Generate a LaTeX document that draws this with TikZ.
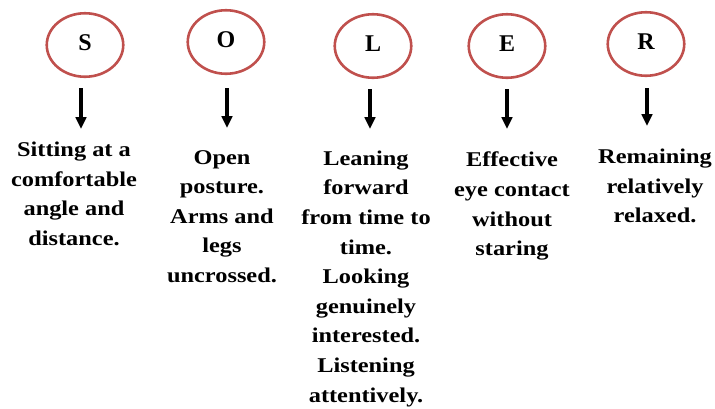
\documentclass[tikz,border=0pt]{standalone}
\usepackage{fontspec}
\setmainfont{Liberation Serif}
\usetikzlibrary{shapes.geometric,arrows.meta}
\definecolor{ringred}{RGB}{192,80,77}
\begin{document}
\begin{tikzpicture}[x=1pt,y=-1pt,
  ring/.style={ellipse,draw=ringred,line width=2.6pt,
    minimum width=76.5pt,minimum height=63.5pt,inner sep=0pt,
    font=\fontsize{24}{28}\selectfont\bfseries,text depth=4pt},
  arr/.style={-{Triangle[width=10.5pt,length=12pt]},line width=3.4pt},
  txt/.style={anchor=north,align=center,inner sep=0pt,
    font=\fontsize{21}{29.6}\selectfont\bfseries,xscale=1.16,transform shape}]
\useasboundingbox[fill=white] (0,0) rectangle (715,408);

% letter rings
\node[ring] (S) at (85,45) {S};
\node[ring] (O) at (226,42) {O};
\node[ring] (L) at (373,46) {L};
\node[ring] (E) at (507,46) {E};
\node[ring] (R) at (646,44) {R};

% descriptions
\node[txt] (tS) at (74,142) {Sitting at a\\comfortable\\angle and\\distance.};
\node[txt] (tO) at (222,150) {Open\\posture.\\Arms and\\legs\\uncrossed.};
\node[txt] (tL) at (366,150.5) {Leaning\\forward\\from time to\\time.\\Looking\\genuinely\\interested.\\Listening\\attentively.};
\node[txt] (tE) at (512,152) {Effective\\eye contact\\without\\staring};
\node[txt] (tR) at (655,149) {Remaining\\relatively\\relaxed.};

% arrows from each ring down to its description
\draw[arr] ([shift={(-4,10)}]S.south) -- ([shift={(-4,51)}]S.south);
\draw[arr] ([shift={(1,13)}]O.south) -- ([shift={(1,53)}]O.south);
\draw[arr] ([shift={(-3,10)}]L.south) -- ([shift={(-3,50)}]L.south);
\draw[arr] ([shift={(0,10)}]E.south) -- ([shift={(0,50)}]E.south);
\draw[arr] ([shift={(1,11)}]R.south) -- ([shift={(1,49)}]R.south);
\end{tikzpicture}
\end{document}
